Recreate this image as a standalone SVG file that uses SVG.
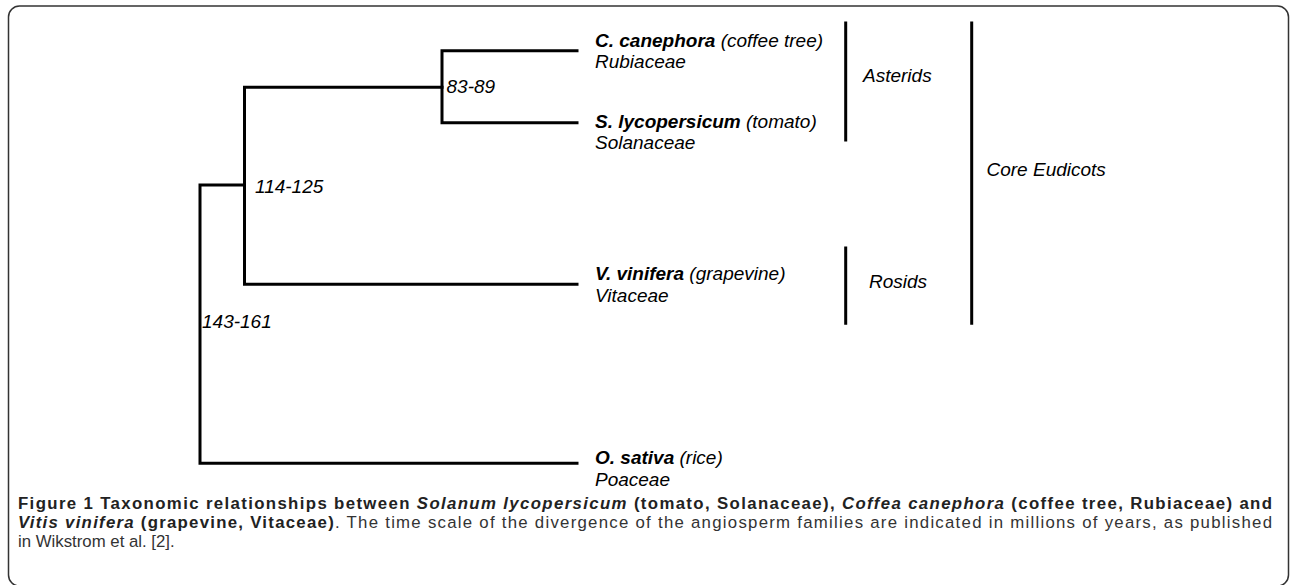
<svg xmlns="http://www.w3.org/2000/svg" width="1290" height="585" viewBox="0 0 1290 585">
<style>
.ln{stroke:#000;stroke-width:3;fill:none;stroke-linecap:square}
.t{font-family:"Liberation Sans",Arial,sans-serif;font-size:19px;font-style:italic;fill:#000}
.b{font-weight:bold}
.cap{font-family:"Liberation Sans",Arial,sans-serif;font-size:16.8px;fill:#333}
.cb{font-weight:bold;fill:#222}
.ci{font-style:italic}
</style>
<rect x="8.5" y="6" width="1280" height="580" rx="11" fill="#fff" stroke="#333" stroke-width="1.5"/>
<g id="connectors">
<path class="ln" d="M442,50.7 H577 M442,50.7 V122.7 M442,122.7 H577"/>
<path class="ln" d="M244.5,87.3 H442 M244.5,87.3 V284.3 M244.5,284.3 H577"/>
<path class="ln" d="M200,185 H244.5 M200,185 V463.3 M200,463.3 H577"/>
<path class="ln" d="M845.7,23 V140 M845.7,248 V323.3 M971.7,23 V323.3"/>
</g>
<g id="node-8389"><text class="t" x="446.5" y="93">83-89</text></g>
<g id="node-114125"><text class="t" x="255" y="193">114-125</text></g>
<g id="node-143161"><text class="t" x="202" y="328.3">143-161</text></g>
<g id="taxon-coffee"><text class="t" x="595" y="46.7"><tspan class="b">C. canephora</tspan> (coffee tree)</text><text class="t" x="595" y="67.7">Rubiaceae</text></g>
<g id="taxon-tomato"><text class="t" x="595" y="128.3"><tspan class="b">S. lycopersicum</tspan> (tomato)</text><text class="t" x="595" y="149.3">Solanaceae</text></g>
<g id="taxon-grape"><text class="t" x="595" y="280"><tspan class="b">V. vinifera</tspan> (grapevine)</text><text class="t" x="595" y="301.7">Vitaceae</text></g>
<g id="taxon-rice"><text class="t" x="595" y="463.8"><tspan class="b">O. sativa</tspan> (rice)</text><text class="t" x="595" y="485.5">Poaceae</text></g>
<g id="clade-asterids"><text class="t" x="863" y="81.7">Asterids</text></g>
<g id="clade-rosids"><text class="t" x="869" y="288.3">Rosids</text></g>
<g id="clade-core"><text class="t" x="986.5" y="175.7">Core Eudicots</text></g>
<g id="caption">
<text class="cap" x="18" y="509" textLength="1254" lengthAdjust="spacing"><tspan class="cb">Figure 1 Taxonomic relationships between </tspan><tspan class="cb ci">Solanum lycopersicum</tspan><tspan class="cb"> (tomato, Solanaceae), </tspan><tspan class="cb ci">Coffea canephora</tspan><tspan class="cb"> (coffee tree, Rubiaceae) and</tspan></text>
<text class="cap" x="18" y="528" textLength="1254" lengthAdjust="spacing"><tspan class="cb ci">Vitis vinifera</tspan><tspan class="cb"> (grapevine, Vitaceae)</tspan>. The time scale of the divergence of the angiosperm families are indicated in millions of years, as published</text>
<text class="cap" x="18" y="547">in Wikstrom et al. [2].</text>
</g>
</svg>
